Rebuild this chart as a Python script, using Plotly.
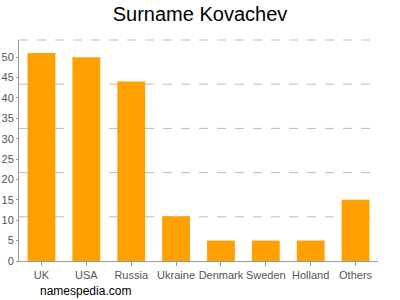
import plotly.graph_objects as go

countries = ["UK", "USA", "Russia", "Ukraine", "Denmark", "Sweden", "Holland", "Others"]
counts = [51, 50, 44, 11, 5, 5, 5, 15]
y_ticks = [0, 5, 10, 15, 20, 25, 30, 35, 40, 45, 50]
y_max = 54.2
grid_fracs = [0.2, 0.4, 0.6, 0.8, 1.0]

fig = go.Figure(go.Bar(
    x=countries, y=counts,
    marker=dict(color="#FFA000", line=dict(width=0)),
    width=0.62,
))

for f in grid_fracs:
    fig.add_shape(type="line", xref="x domain", yref="y domain",
                  x0=0, x1=1, y0=f, y1=f,
                  line=dict(color="#bbbbbb", width=1, dash="dash"), layer="below")

fig.update_layout(
    width=400, height=300,
    margin=dict(l=19, r=22, t=40, b=39, autoexpand=False),
    plot_bgcolor="white", paper_bgcolor="white",
    showlegend=False,
    title=dict(text="Surname Kovachev", x=0.5, xanchor="center", y=0.952, yanchor="middle",
               font=dict(family="Liberation Sans, Arial, sans-serif", size=20, color="#000")),
    font=dict(family="Liberation Sans, Arial, sans-serif", size=11, color="#555"),
    xaxis=dict(showline=True, linecolor="#999", linewidth=1, ticks="outside", ticklen=4,
               tickcolor="#999", tickfont=dict(size=11, color="#555"), showgrid=False,
               tickangle=0, automargin=False),
    yaxis=dict(range=[0, y_max], tickvals=y_ticks, showline=True, linecolor="#999", linewidth=1,
               ticks="outside", ticklen=2, tickcolor="#999", showgrid=False, zeroline=False,
               tickfont=dict(size=11, color="#555"), automargin=False),
    annotations=[dict(text="namespedia.com", xref="paper", yref="paper", x=0.053, y=-0.136,
                      xanchor="left", yanchor="middle", showarrow=False,
                      font=dict(size=12, color="#000"))],
)

fig.write_html("out.html")
